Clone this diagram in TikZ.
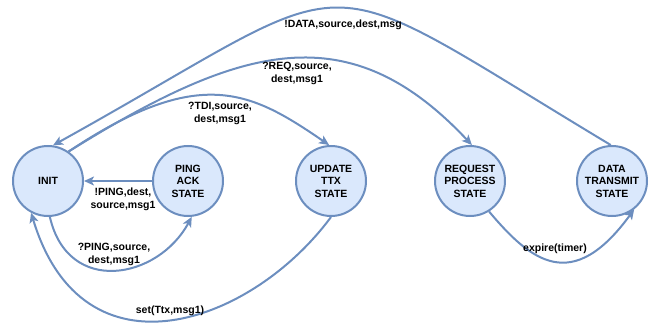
\documentclass[tikz,border=0pt]{standalone}
\usepackage{fontspec}
\setmainfont{Liberation Sans}
\usetikzlibrary{arrows.meta}
\definecolor{stfill}{HTML}{DAE8FC}
\definecolor{ststroke}{HTML}{6C8EBF}
\tikzset{
  state/.style={circle, draw=ststroke, fill=stfill, line width=2pt, minimum size=70pt,
    inner sep=0pt, align=center, font=\fontsize{10.5}{12.5}\selectfont\bfseries},
  trans/.style={draw=ststroke, line width=2pt, -{Stealth[length=10pt,width=9pt,inset=2.5pt]}},
  lbl/.style={align=center, font=\fontsize{10.5}{13}\selectfont\bfseries, inner sep=0pt}
}
\begin{document}
\begin{tikzpicture}[x=1pt,y=-1pt]
\useasboundingbox (0,0) rectangle (658,323);
\node[state] (init) at (48,181) {INIT};
\node[state] (ping) at (188,181) {PING\\ACK\\STATE};
\node[state] (upd)  at (331,181) {UPDATE\\TTX\\STATE};
\node[state] (req)  at (470,181) {REQUEST\\PROCESS\\STATE};
\node[state] (data) at (612,181) {DATA\\TRANSMIT\\STATE};

\draw[trans] (ping.west) -- (init.east);
\draw[trans] (init.-87) .. controls +(18,79) and +(-34,63) .. (ping.-84);
\draw[trans] (upd.-90) .. controls +(-79,107) and +(52,172) .. (init.-118);
\draw[trans] (init.55) .. controls +(132,-88) and +(-77.5,-53) .. (upd.93);
\draw[trans] (init.55) .. controls +(173,-108) and +(-122.5,-130.7) .. (req.87);
\draw[trans] (data.92) .. controls +(-313,-188) and +(321,-178) .. (init.82);
\draw[trans] (req.-58) .. controls +(42,50) and +(-62,85) .. (data.-52);

\node[lbl] (l1) at (343,25) {!DATA,source,dest,msg};
\node[lbl] (l2) at (297,73) {?REQ,source,\\dest,msg1};
\node[lbl] (l3) at (220,113) {?TDI,source,\\dest,msg1};
\node[lbl] (l4) at (123,199) {!PING,dest,\\source,msg1};
\node[lbl] (l5) at (114,254) {?PING,source,\\dest,msg1};
\node[lbl] (l6) at (170,311) {set(Ttx,msg1)};
\node[lbl] (l7) at (555,249) {expire(timer)};
\end{tikzpicture}
\end{document}
